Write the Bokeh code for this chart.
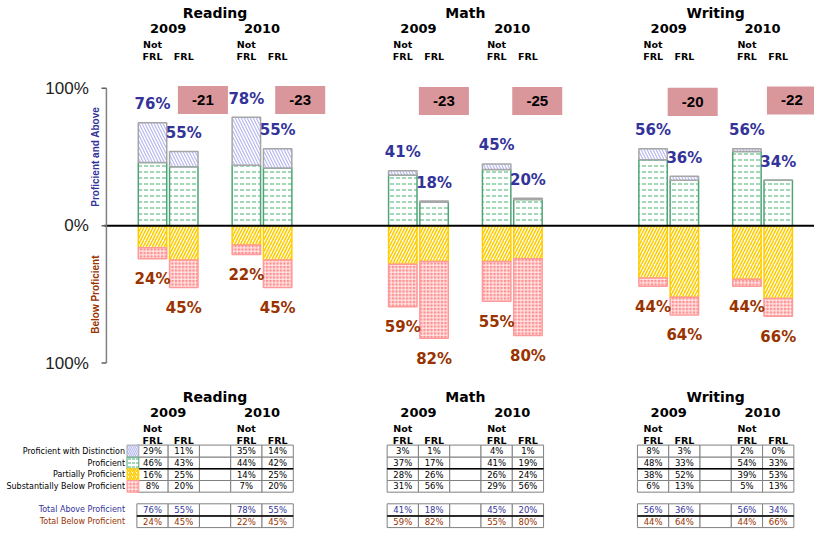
import math
from bokeh.plotting import figure
from bokeh.models import Range1d
from bokeh.embed import file_html
from bokeh.resources import INLINE
from bokeh.core.properties import value

# ---------------- data ----------------
subjects = ["Reading", "Math", "Writing"]
years = ["2009", "2010"]
groups = ["Not\nFRL", "FRL"]
# bar order: per subject -> 2009 Not FRL, 2009 FRL, 2010 Not FRL, 2010 FRL
distinction = [29, 11, 35, 14, 3, 1, 4, 1, 8, 3, 2, 0]
proficient = [46, 43, 44, 42, 37, 17, 41, 19, 48, 33, 54, 33]
partially = [16, 25, 14, 25, 28, 26, 26, 24, 38, 52, 39, 53]
substantially = [8, 20, 7, 20, 31, 56, 29, 56, 6, 13, 5, 13]
total_above = [76, 55, 78, 55, 41, 18, 45, 20, 56, 36, 56, 34]
total_below = [24, 45, 22, 45, 59, 82, 55, 80, 44, 64, 44, 66]
row_labels = ["Proficient with Distinction", "Proficient", "Partially Proficient",
              "Substantially Below Proficient"]
total_labels = ["Total Above Proficient", "Total Below Proficient"]
tick_values = [100, 0, -100]
tick_labels = ["100%", "0%", "100%"]

# ---------------- layout / style ----------------
BLUE_T = "#333399"
BROWN_T = "#993300"
PX = 1.415            # reference pixels per percent unit
ZERO = 232            # reference y of 0%
X0, SLOT = 155, 31.9
BAR_W = 29
FONT = value("DejaVu Sans")
FONT_A = value("Liberation Sans")
gap_dx = [19.5, 23, 10, 9.5, 8.5, 14]
gap_y = [102.5, 102.5, 103.5, 103.5, 104.5, 103]


def ydat(ry):
    return (ZERO - ry) / PX


def slot_x(s, k):
    return X0 + SLOT * (8 * s + k)


bar_slots = [0, 1, 3, 4]
xs = [slot_x(i // 4, bar_slots[i % 4]) for i in range(12)]

p = figure(width=814, height=530, output_backend="svg", toolbar_location=None,
           x_range=Range1d(0, 830), y_range=Range1d(ydat(546), ydat(0)),
           min_border=0)
p.axis.visible = False
p.grid.visible = False
p.outline_line_color = None
p.background_fill_color = "white"

STYLES = {
    "dist": dict(fill_color="white", hatch_pattern="\\", hatch_color="#b8b8f2",
                 hatch_scale=6, hatch_weight=1.2, line_color="#a6a6a6"),
    "prof": dict(fill_color="white", hatch_pattern='"', hatch_color="#66bb88",
                 hatch_scale=6, hatch_weight=1.2, line_color="#4fa475"),
    "part": dict(fill_color="white", hatch_pattern="/", hatch_color="#ffcc00",
                 hatch_scale=6, hatch_weight=1.6, line_color="#ffcc00"),
    "subs": dict(fill_color="#ff8f8f", hatch_pattern="+", hatch_color="#fff0f0",
                 hatch_scale=3.5, hatch_weight=1.0, line_color="#ff9a9a"),
}

# ---------------- bars ----------------
prof_top = proficient
dist_top = [a + b for a, b in zip(proficient, distinction)]
part_bot = [-v for v in partially]
subs_bot = [-(a + b) for a, b in zip(partially, substantially)]

p.vbar(x=xs, width=BAR_W, bottom=0, top=prof_top, line_width=1.5, **STYLES["prof"])
p.vbar(x=xs, width=BAR_W, bottom=prof_top, top=dist_top, line_width=1.5, **STYLES["dist"])
p.vbar(x=xs, width=BAR_W, bottom=part_bot, top=0, line_width=1.5, **STYLES["part"])
p.vbar(x=xs, width=BAR_W, bottom=subs_bot, top=part_bot, line_width=1.5, **STYLES["subs"])

# zero line and axis
p.segment(x0=[106], y0=[0], x1=[830], y1=[0], line_color="black", line_width=2)
p.segment(x0=[108], y0=[min(tick_values)], x1=[108], y1=[max(tick_values)],
          line_color="#808080", line_width=1.5)
p.segment(x0=[103] * 3, y0=tick_values, x1=[108] * 3, y1=tick_values,
          line_color="#606060", line_width=1.5)
p.text(x=[90] * 3, y=tick_values, text=tick_labels, text_align="right",
       text_baseline="middle", text_font=FONT_A, text_font_size="17px",
       text_color="#222222")
p.text(x=[97], y=[ydat(161)], text=["Proficient and Above"], angle=math.pi / 2,
       text_align="center", text_baseline="middle", text_font=FONT_A,
       text_font_style="bold", text_font_size="10px", text_color=BLUE_T)
p.text(x=[97], y=[ydat(303)], text=["Below Proficient"], angle=math.pi / 2,
       text_align="center", text_baseline="middle", text_font=FONT_A,
       text_font_style="bold", text_font_size="10px", text_color=BROWN_T)

# value labels
p.text(x=xs, y=[t + 19 / PX for t in dist_top], text=[f"{v}%" for v in total_above],
       text_align="center", text_baseline="middle", text_font=FONT,
       text_font_style="bold", text_font_size="15px", text_color=BLUE_T)
p.text(x=xs, y=[b - 21 / PX for b in subs_bot], text=[f"{v}%" for v in total_below],
       text_align="center", text_baseline="middle", text_font=FONT,
       text_font_style="bold", text_font_size="15px", text_color=BROWN_T)

# gap boxes
gx, gy, gt = [], [], []
for j in range(6):
    nf, fr = 2 * j, 2 * j + 1
    gx.append(xs[fr] + gap_dx[j])
    gy.append(ydat(gap_y[j]))
    gt.append(str(total_above[fr] - total_above[nf]))
p.rect(x=gx, y=gy, width=51, height=29 / PX, fill_color="#d9969b", line_color=None)
p.text(x=gx, y=gy, text=gt, text_align="center", text_baseline="middle",
       text_font=FONT_A, text_font_style="bold", text_font_size="15px",
       text_color="black")


# ---------------- headers (top and table) ----------------
def headers(off):
    for s, subj in enumerate(subjects):
        p.text(x=[slot_x(s, 2)], y=[ydat(13 + off)], text=[subj], text_align="center",
               text_baseline="middle", text_font=FONT, text_font_style="bold",
               text_font_size="14px", text_color="black")
        for yi, yr in enumerate(years):
            k0 = 3 * yi
            p.text(x=[(slot_x(s, k0) + slot_x(s, k0 + 1)) / 2], y=[ydat(29 + off)],
                   text=[yr], text_align="center", text_baseline="middle",
                   text_font=FONT, text_font_style="bold", text_font_size="13px",
                   text_color="black")
            for gi, g in enumerate(groups):
                lines = g.split("\n")
                for li, ln in enumerate(reversed(lines)):
                    p.text(x=[slot_x(s, k0 + gi)], y=[ydat(58 + off - 12.5 * li)],
                           text=[ln], text_align="center", text_baseline="middle",
                           text_font=FONT, text_font_style="bold",
                           text_font_size="9.5px", text_color="black")


headers(0)
headers(395)

# ---------------- table ----------------
row_edges = [458, 470.5, 482.5, 494.5, 506.5]
tot_edges = [518.5, 531, 543]
table_rows = [distinction, proficient, partially, substantially]
tot_rows = [total_above, total_below]
cell_cols = [0, 1, 2, 3, 4]

for s in range(3):
    for edges, rows, colors in ((row_edges, table_rows, ["black"] * 4),
                                (tot_edges, tot_rows, [BLUE_T, BROWN_T])):
        L, R, T, B = [], [], [], []
        tx, ty, tt, tc = [], [], [], []
        for r in range(len(rows)):
            for k in cell_cols:
                cx = slot_x(s, k)
                L.append(cx - SLOT / 2)
                R.append(cx + SLOT / 2)
                T.append(ydat(edges[r]))
                B.append(ydat(edges[r + 1]))
                if k != 2:
                    idx = 4 * s + bar_slots.index(k)
                    tx.append(cx)
                    ty.append(ydat((edges[r] + edges[r + 1]) / 2))
                    tt.append(f"{rows[r][idx]}%")
                    tc.append(colors[r])
        p.quad(left=L, right=R, top=T, bottom=B, fill_color="white",
               line_color="#808080", line_width=1)
        p.text(x=tx, y=ty, text=tt, text_color=tc, text_align="center",
               text_baseline="middle", text_font=FONT, text_font_size="8.5px")
    left = slot_x(s, 0) - SLOT / 2
    right = slot_x(s, 4) + SLOT / 2
    p.segment(x0=[left, left], y0=[ydat(row_edges[2]), ydat(tot_edges[1])],
              x1=[right, right], y1=[ydat(row_edges[2]), ydat(tot_edges[1])],
              line_color="black", line_width=1.5)

# legend swatches and row labels
keys = ["dist", "prof", "part", "subs"]
for r, key in enumerate(keys):
    st = dict(STYLES[key])
    st["hatch_scale"] = min(st["hatch_scale"], 4)
    p.quad(left=[129], right=[141], top=[ydat(row_edges[r])],
           bottom=[ydat(row_edges[r + 1])], line_width=1, **st)
p.text(x=[127] * 4,
       y=[ydat((row_edges[r] + row_edges[r + 1]) / 2) for r in range(4)],
       text=row_labels, text_align="right", text_baseline="middle",
       text_font=FONT, text_font_size="8px", text_color="black")
p.text(x=[127] * 2,
       y=[ydat((tot_edges[r] + tot_edges[r + 1]) / 2) for r in range(2)],
       text=total_labels, text_align="right", text_baseline="middle",
       text_font=FONT, text_font_size="8px", text_color=[BLUE_T, BROWN_T])

open("out.html", "w").write(file_html(p, INLINE))
